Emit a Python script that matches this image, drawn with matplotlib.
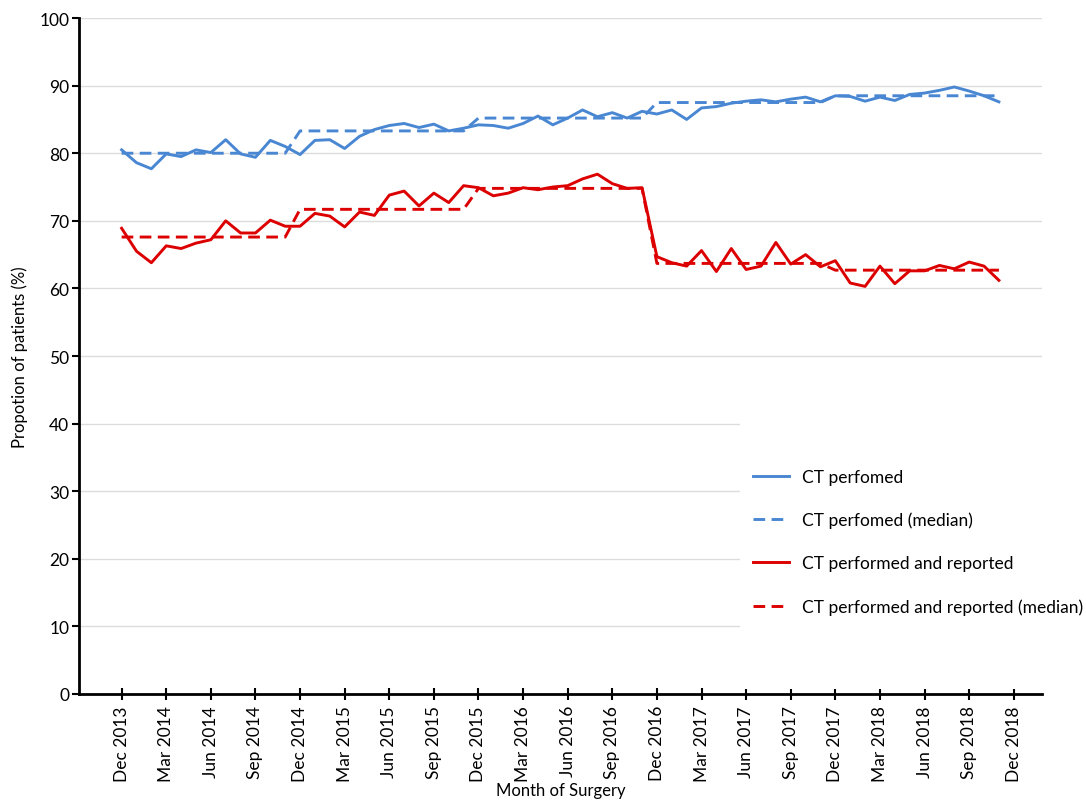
import numpy as np
import matplotlib
matplotlib.use("Agg")
import matplotlib.pyplot as plt
from matplotlib.patches import Rectangle

# monthly values, Dec 2013 .. Nov 2018
ct_performed = [80.5, 78.6, 77.7, 79.9, 79.5, 80.5, 80.1, 82.0, 79.9, 79.4, 81.9, 81.0,
                79.8, 81.9, 82.0, 80.7, 82.5, 83.5, 84.1, 84.4, 83.8, 84.3, 83.3, 83.7,
                84.2, 84.1, 83.7, 84.4, 85.5, 84.2, 85.2, 86.4, 85.4, 86.0, 85.2, 86.2,
                85.8, 86.4, 85.0, 86.7, 86.9, 87.4, 87.7, 87.9, 87.6, 88.0, 88.3, 87.6,
                88.5, 88.4, 87.7, 88.3, 87.8, 88.7, 88.9, 89.3, 89.8, 89.2, 88.5, 87.6]
ct_reported = [68.9, 65.5, 63.8, 66.3, 65.9, 66.7, 67.2, 70.0, 68.2, 68.2, 70.1, 69.2,
               69.2, 71.1, 70.7, 69.1, 71.3, 70.8, 73.8, 74.4, 72.2, 74.1, 72.7, 75.2,
               74.9, 73.7, 74.1, 74.9, 74.6, 75.0, 75.2, 76.2, 76.9, 75.5, 74.8, 74.9,
               64.7, 63.8, 63.3, 65.6, 62.5, 65.9, 62.8, 63.3, 66.8, 63.6, 65.0, 63.2,
               64.1, 60.8, 60.3, 63.3, 60.7, 62.6, 62.6, 63.4, 62.9, 63.9, 63.3, 61.2]

# yearly medians (Dec-Nov periods)
performed_median_by_year = [80.0, 83.3, 85.2, 87.5, 88.5]
reported_median_by_year = [67.6, 71.7, 74.8, 63.7, 62.7]

tick_labels = ["Dec 2013", "Mar 2014", "Jun 2014", "Sep 2014", "Dec 2014", "Mar 2015",
               "Jun 2015", "Sep 2015", "Dec 2015", "Mar 2016", "Jun 2016", "Sep 2016",
               "Dec 2016", "Mar 2017", "Jun 2017", "Sep 2017", "Dec 2017", "Mar 2018",
               "Jun 2018", "Sep 2018", "Dec 2018"]

BLUE = "#4a87d3"
RED = "#dc0000"

plt.rcParams["font.family"] = ["Lato", "DejaVu Sans"]

months = np.arange(len(ct_performed))
performed_median = np.repeat(performed_median_by_year, 12)
reported_median = np.repeat(reported_median_by_year, 12)

fig = plt.figure(figsize=(10.86, 8.03), dpi=100)
ax = fig.add_axes([0.0727, 0.1345, 0.8868, 0.8418])

ax.plot(months, ct_performed, color=BLUE, lw=2.1, label="CT perfomed", zorder=3)
ax.plot(months, performed_median, color=BLUE, lw=2.1, dashes=(4, 2.2),
        label="CT perfomed (median)", zorder=3)
ax.plot(months, ct_reported, color=RED, lw=2.1, label="CT performed and reported", zorder=3)
ax.plot(months, reported_median, color=RED, lw=2.1, dashes=(4, 2.2),
        label="CT performed and reported (median)", zorder=3)

ax.set_xlim(-2.87, 61.9)
ax.set_ylim(0, 100)
ax.set_yticks(range(0, 101, 10))
ax.set_xticks(range(0, 61, 3))
ax.set_xticklabels(tick_labels, rotation=90, fontsize=12.5)
ax.tick_params(axis="y", labelsize=12.5, length=5, width=1.5, direction="out", pad=2)
ax.tick_params(axis="x", length=8, width=1.5, direction="inout", pad=4)

ax.grid(axis="y", color="#dcdcdc", lw=1.0, zorder=0)
ax.set_axisbelow(True)
for side in ["top", "right"]:
    ax.spines[side].set_visible(False)
for side in ["left", "bottom"]:
    ax.spines[side].set_linewidth(2.0)
    ax.spines[side].set_color("black")

ax.set_ylabel("Propotion of patients (%)", fontsize=12, labelpad=8)
ax.set_xlabel("Month of Surgery", fontsize=12, labelpad=1)

# white area behind the legend hides the gridlines
ax.add_patch(Rectangle((0.686, 0.008), 0.32, 0.43, transform=ax.transAxes,
                       facecolor="white", edgecolor="none", zorder=1, clip_on=False))

fig.legend(loc="upper left", bbox_to_anchor=(0.693, 0.415), frameon=False,
           fontsize=12.5, handlelength=2.1, handletextpad=0.75, labelspacing=1.55,
           borderpad=0, borderaxespad=0)

fig.savefig("out.png", dpi=100)
